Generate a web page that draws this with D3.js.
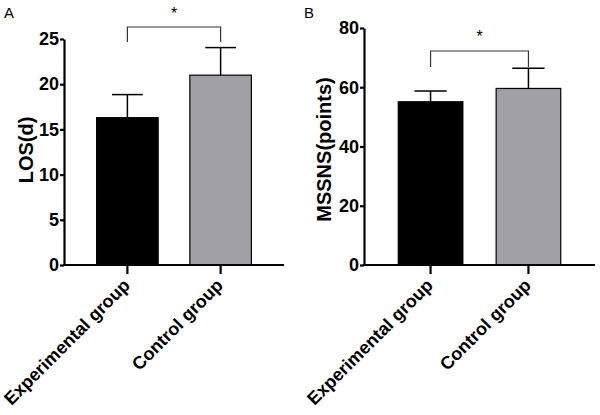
<!DOCTYPE html>
<html><head><meta charset="utf-8">
<script src="https://cdn.jsdelivr.net/npm/d3@7"></script>
<style>
body{margin:0;background:#fff;}
svg{display:block;}
text{font-family:"Liberation Sans",Arial,sans-serif;}
</style></head>
<body><svg id="c" width="600" height="415"></svg>
<script>
const categories = ["Experimental group", "Control group"];
const losMean = [16.3, 21.0];
const losSD = [2.55, 3.05];
const losTicks = [0, 5, 10, 15, 20, 25];
const mssnsMean = [55.1, 59.6];
const mssnsSD = [3.6, 6.8];
const mssnsTicks = [0, 20, 40, 60, 80];
const fills = ["#000000", "#a1a1a5"];

const svg = d3.select("#c");

function panel(o) {
  const g = svg.append("g");
  const x = d3.scaleBand().domain(categories).range([o.x0, o.x1]).paddingInner(0.34).paddingOuter(0.35);
  const y = d3.scaleLinear().domain([0, o.max]).range([o.y0, o.y1]);

  g.selectAll("rect.bar").data(categories).enter().append("rect")
    .attr("x", d => x(d)).attr("width", x.bandwidth())
    .attr("y", (d, i) => y(o.mean[i])).attr("height", (d, i) => y(0) - y(o.mean[i]))
    .attr("fill", (d, i) => fills[i]).attr("stroke", "#000").attr("stroke-width", 1.2);

  const cap = x.bandwidth() * 0.25;
  categories.forEach((d, i) => {
    const cx = x(d) + x.bandwidth() / 2;
    g.append("line").attr("x1", cx).attr("x2", cx)
      .attr("y1", y(o.mean[i])).attr("y2", y(o.mean[i] + o.sd[i]))
      .attr("stroke", "#000").attr("stroke-width", 1.5);
    g.append("line").attr("x1", cx - cap).attr("x2", cx + cap)
      .attr("y1", y(o.mean[i] + o.sd[i])).attr("y2", y(o.mean[i] + o.sd[i]))
      .attr("stroke", "#000").attr("stroke-width", 1.5);
  });

  const ya = g.append("g").attr("transform", `translate(${o.x0},0)`)
    .call(d3.axisLeft(y).tickValues(o.ticks).tickSize(4).tickSizeOuter(0).tickPadding(1));
  ya.select(".domain").attr("stroke-width", 2.2);
  ya.selectAll(".tick line").attr("stroke-width", 2.2);
  ya.selectAll("text").style("font-size", "18px").style("font-weight", "bold").attr("fill", "#000");

  const xa = g.append("g").attr("transform", `translate(0,${o.y0})`)
    .call(d3.axisBottom(x).tickSize(9).tickSizeOuter(0).tickPadding(3));
  xa.select(".domain").attr("stroke-width", 2.2).attr("d", `M${o.x0 - 1},0H${o.x1}`);
  xa.selectAll(".tick line").attr("stroke-width", 2.2);
  xa.selectAll("text").style("font-size", "18px").style("font-weight", "bold").attr("fill", "#000")
    .attr("text-anchor", "end").attr("dy", "0.75em")
    .attr("transform", "translate(-6,12) rotate(-45)").attr("y", 0).attr("x", 0);

  g.append("text").attr("transform", `translate(${o.labelX},${(o.y0 + o.y1) / 2 + o.labelDy}) rotate(-90)`)
    .attr("text-anchor", "middle").style("font-size", "20px").style("font-weight", "bold")
    .text(o.label);

  const bx1 = x(categories[0]) + x.bandwidth() / 2, bx2 = x(categories[1]) + x.bandwidth() / 2;
  g.append("path").attr("d", `M${bx1},${o.bLeg}V${o.bTop}H${bx2}V${o.bLeg}`)
    .attr("fill", "none").attr("stroke", "#333").attr("stroke-width", 1.2);
  g.append("text").attr("x", (bx1 + bx2) / 2).attr("y", o.starY).attr("text-anchor", "middle")
    .style("font-size", "16px").text("*");

  g.append("text").attr("x", o.letterX).attr("y", 18).style("font-size", "15px").text(o.letter);
}

panel({x0: 64, x1: 284, y0: 265, y1: 39, max: 25, mean: losMean, sd: losSD, ticks: losTicks,
  label: "LOS(d)", labelX: 33, labelDy: -2, bTop: 27, bLeg: 42, starY: 19, letter: "A", letterX: 4});
panel({x0: 364, x1: 595, y0: 265, y1: 28, max: 80, mean: mssnsMean, sd: mssnsSD, ticks: mssnsTicks,
  label: "MSSNS(points)", labelX: 331, labelDy: 3, bTop: 51, bLeg: 67, starY: 42, letter: "B", letterX: 304});
</script></body></html>
